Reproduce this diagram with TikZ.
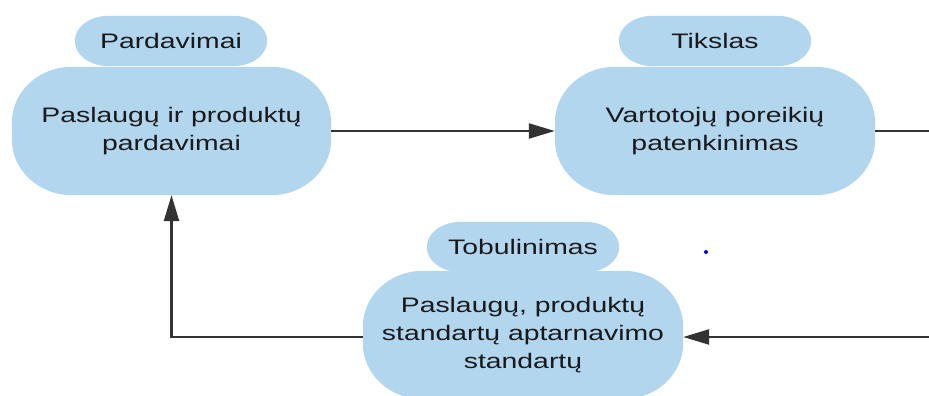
\documentclass[tikz,border=0pt]{standalone}
\usepackage{fontspec}
\setmainfont{Liberation Sans}[FakeStretch=1.35]
\usetikzlibrary{arrows.meta}
\usetikzlibrary{backgrounds}

\definecolor{blobblue}{RGB}{179,214,239}
\definecolor{linegray}{RGB}{51,51,51}

% rounded fill behind a node: name, x radius, y radius
\newcommand{\blob}[3]{%
  \fill[blobblue] ([xshift=#2]#1.north west) -- ([xshift=-#2]#1.north east)
    arc[start angle=90, end angle=0, x radius=#2, y radius=#3]
    -- ([yshift=#3]#1.south east)
    arc[start angle=0, end angle=-90, x radius=#2, y radius=#3]
    -- ([xshift=#2]#1.south west)
    arc[start angle=270, end angle=180, x radius=#2, y radius=#3]
    -- ([yshift=-#3]#1.north west)
    arc[start angle=180, end angle=90, x radius=#2, y radius=#3] -- cycle;}

\begin{document}
\begin{tikzpicture}[
		x=1pt, y=1pt,
		>={Triangle[length=26pt,width=15pt]},
		box/.style={minimum width=320pt, minimum height=128pt, inner sep=0pt,
			align=center, text=black!90, font=\fontsize{21}{28}\selectfont},
		tab/.style={minimum width=192pt, minimum height=50pt, inner sep=0pt,
			text=black!90, font=\fontsize{21}{28}\selectfont},
		link/.style={draw=linegray, line width=2.4pt},
	]
		\clip (0,0) rectangle (929,396);

		% tabs
		\node[tab] (t1) at (171,355) {Pardavimai};
		\node[tab] (t2) at (715,355) {Tikslas};
		\node[tab] (t3) at (523,149) {Tobulinimas};

		% boxes
		\node[box, minimum width=319pt] (b1) at (171.5,265) {Paslaugų ir produktų\\pardavimai};
		\node[box] (b2) at (715,265) {Vartotojų poreikių\\patenkinimas};
		\node[box] (b3) at (523,61) {Paslaugų, produktų\\standartų aptarnavimo\\standartų};

		% fills
		\begin{scope}[on background layer]
			\blob{t1}{34pt}{25pt}
			\blob{t2}{34pt}{25pt}
			\blob{t3}{34pt}{25pt}
			\blob{b1}{60pt}{56pt}
			\blob{b2}{60pt}{56pt}
			\blob{b3}{60pt}{56pt}
		\end{scope}
		\fill[blue] (706,144) circle (2pt);

		% connections
		\coordinate (r1) at (950,265);
		\coordinate (r2) at (950,59);
		\draw[link, ->] (b1) -- (b2);
		\draw[link] (b2) -- (r1) -- (r2);
		\draw[link, ->] (r2) -- (b3.east |- r2);
		\draw[link, ->] (b3.west |- r2) -| (b1);
	\end{tikzpicture}
\end{document}
